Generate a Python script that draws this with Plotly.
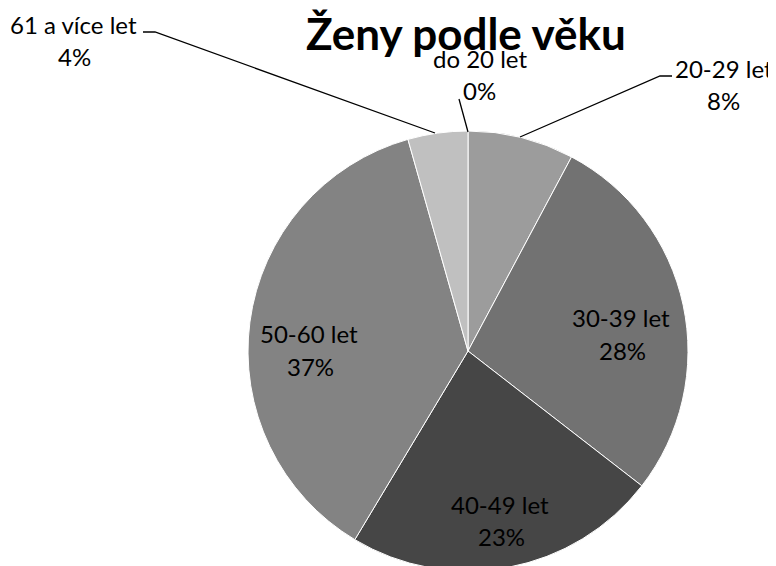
import plotly.graph_objects as go

# data
labels = ['do 20 let', '20-29 let', '30-39 let', '40-49 let', '50-60 let', '61 a více let']
values = [0.0, 7.8, 27.7, 23.1, 37.0, 4.4]
colors = ['#b0b0b0', '#9c9c9c', '#727272', '#464646', '#838383', '#c0c0c0']
title_text = 'Ženy podle věku'

W, H = 776, 566
OFF = 8  # page body margin
FONT = 'Lato'


def px(x, y):
    # screenshot pixel -> paper coords of the figure
    return (x - OFF) / W, 1 - (y - OFF) / H


cx, cy, r = 468 - OFF, 351 - OFF, 220
fig = go.Figure()
fig.add_trace(go.Pie(
    labels=labels,
    values=values,
    sort=False,
    direction='clockwise',
    rotation=0,
    textinfo='none',
    marker=dict(colors=colors, line=dict(color='white', width=1)),
    domain=dict(x=[(cx - r - 20) / W, (cx + r + 20) / W],
                y=[(H - cy - r) / H, (H - cy + r) / H]),
    showlegend=False,
))

total = sum(values)
pct = [f'{round(v / total * 100):.0f}%' for v in values]

# label placement (pixel centres of the two text lines)
label_pos = {
    'do 20 let': (480, 59, 480, 91),
    '20-29 let': (724, 69, 723, 100),
    '30-39 let': (621, 317, 622, 350),
    '40-49 let': (500, 504, 501, 536),
    '50-60 let': (309, 333, 310, 366),
    '61 a více let': (73, 25, 74, 57),
}

annotations = []
for lab, p in zip(labels, pct):
    x1, y1, x2, y2 = label_pos[lab]
    for txt, (x, y) in ((lab, (x1, y1)), (p, (x2, y2))):
        ax, ay = px(x, y)
        annotations.append(dict(
            x=ax, y=ay, xref='paper', yref='paper', text=txt, showarrow=False,
            xanchor='center', yanchor='middle',
            font=dict(family=FONT, size=24, color='black'),
        ))

tx, ty = px(466, 33)
annotations.append(dict(
    x=tx, y=ty, xref='paper', yref='paper', text=f'<b>{title_text}</b>',
    showarrow=False, xanchor='center', yanchor='middle',
    font=dict(family=FONT, size=44, color='black'),
))

# leader lines
leaders = [
    [(143, 32), (155, 32), (435, 133)],
    [(459, 99), (468, 132)],
    [(672, 76), (660, 76), (520, 137)],
]
shapes = []
for pts in leaders:
    path = ''
    for i, (x, y) in enumerate(pts):
        fx, fy = px(x, y)
        path += ('M' if i == 0 else 'L') + f'{fx},{fy} '
    shapes.append(dict(type='path', path=path.strip(), xref='paper', yref='paper',
                       line=dict(color='black', width=1.3)))

fig.update_layout(
    width=W, height=H,
    margin=dict(l=0, r=0, t=0, b=0),
    paper_bgcolor='white',
    plot_bgcolor='white',
    annotations=annotations,
    shapes=shapes,
)

fig.write_html('out.html')
